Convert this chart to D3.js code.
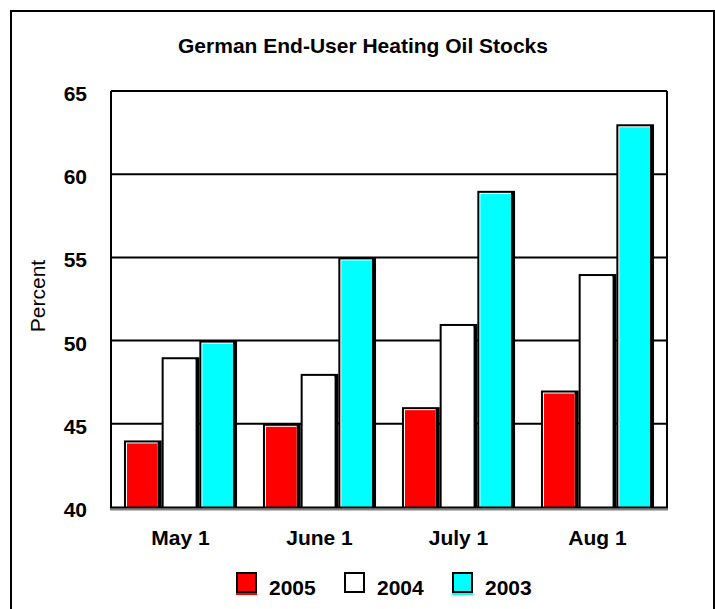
<!DOCTYPE html>
<html>
<head>
<meta charset="utf-8">
<script src="https://cdn.jsdelivr.net/npm/d3@7"></script>
<style>
  body { margin: 0; background: #fff; }
  text { font-family: Arial, "Liberation Sans", sans-serif; }
</style>
</head>
<body>
<div id="chart"></div>
<script>
var categories = ["May 1", "June 1", "July 1", "Aug 1"];
var seriesNames = ["2005", "2004", "2003"];
var seriesColors = ["#ff0000", "#ffffff", "#00ffff"];
var values2005 = [44, 45, 46, 47];
var values2004 = [49, 48, 51, 54];
var values2003 = [50, 55, 59, 63];
var yTicks = [40, 45, 50, 55, 60, 65];

var seriesValues = [values2005, values2004, values2003];

var W = 715, H = 609;
var margin = {top: 91, right: 48, bottom: 102, left: 111},
    width = W - margin.left - margin.right,
    height = H - margin.top - margin.bottom;

var svg = d3.select("#chart")
  .append("svg")
    .attr("width", W)
    .attr("height", H);

// outer frame
svg.append("rect")
  .attr("x", 11).attr("y", 11)
  .attr("width", 703).attr("height", 620)
  .attr("fill", "none")
  .attr("stroke", "#000")
  .attr("stroke-width", 2);

svg.append("text")
  .attr("x", 363).attr("y", 53)
  .attr("text-anchor", "middle")
  .attr("font-size", "21px")
  .attr("font-weight", "bold")
  .text("German End-User Heating Oil Stocks");

var g = svg.append("g")
  .attr("transform", "translate(" + margin.left + "," + margin.top + ")");

var x0 = d3.scaleBand().domain(categories).range([0, width]).padding(0);
var x1 = d3.scaleBand().domain(seriesNames).range([0, x0.bandwidth()])
  .paddingInner(0).paddingOuter(0.344);
var y = d3.scaleLinear().domain([40, 65]).range([height, 0]);

// gridlines
g.selectAll(".grid")
  .data(yTicks.filter(function(d) { return d > 40; }))
  .enter()
  .append("line")
    .attr("x1", 0).attr("x2", width)
    .attr("y1", function(d) { return y(d); })
    .attr("y2", function(d) { return y(d); })
    .attr("stroke", "#000")
    .attr("stroke-width", 2);

// plot frame sides
g.append("line").attr("x1", 0).attr("x2", 0).attr("y1", 0).attr("y2", height)
  .attr("stroke", "#000").attr("stroke-width", 2);
g.append("line").attr("x1", width).attr("x2", width).attr("y1", 0).attr("y2", height)
  .attr("stroke", "#000").attr("stroke-width", 2);

// bars, drawn as stacked rects for the bevel look
var bars = [];
categories.forEach(function(c, i) {
  seriesNames.forEach(function(s, j) {
    bars.push({cat: c, series: s, value: seriesValues[j][i], color: seriesColors[j]});
  });
});

var bar = g.selectAll(".bar")
  .data(bars)
  .enter()
  .append("g")
    .attr("transform", function(d) {
      return "translate(" + (x0(d.cat) + x1(d.series)) + "," + y(d.value) + ")";
    });

var bw = x1.bandwidth();
bar.append("rect")
  .attr("width", bw)
  .attr("height", function(d) { return height - y(d.value); })
  .attr("fill", "#000");
bar.append("rect")
  .attr("x", 2).attr("y", 2)
  .attr("width", bw - 6)
  .attr("height", function(d) { return height - y(d.value) - 2; })
  .attr("fill", "#fff");
bar.append("rect")
  .attr("x", 3).attr("y", 3)
  .attr("width", bw - 7)
  .attr("height", function(d) { return height - y(d.value) - 3; })
  .attr("fill", function(d) { return d.color; });

// bottom axis with grey shadow
g.append("line").attr("x1", -1).attr("x2", width + 1)
  .attr("y1", height + 2.5).attr("y2", height + 2.5)
  .attr("stroke", "#808080").attr("stroke-width", 2);
g.append("line").attr("x1", -1).attr("x2", width + 1)
  .attr("y1", height + 0.5).attr("y2", height + 0.5)
  .attr("stroke", "#000").attr("stroke-width", 2);

// y tick labels
g.selectAll(".ytick")
  .data(yTicks)
  .enter()
  .append("text")
    .attr("x", -24)
    .attr("y", function(d) { return y(d) + 10; })
    .attr("text-anchor", "end")
    .attr("font-size", "21px")
    .attr("font-weight", "bold")
    .text(function(d) { return d; });

// x labels
g.selectAll(".xlab")
  .data(categories)
  .enter()
  .append("text")
    .attr("x", function(d) { return x0(d) + x0.bandwidth() / 2; })
    .attr("y", height + 38)
    .attr("text-anchor", "middle")
    .attr("font-size", "21px")
    .attr("font-weight", "bold")
    .text(function(d) { return d; });

// y axis title
svg.append("text")
  .attr("transform", "translate(45,296) rotate(-90)")
  .attr("text-anchor", "middle")
  .attr("font-size", "21px")
  .text("Percent");

// legend
var legendX = [236, 344, 452];
var legend = svg.selectAll(".legend")
  .data(seriesNames)
  .enter()
  .append("g")
    .attr("transform", function(d, i) { return "translate(" + legendX[i] + ",572)"; });

legend.append("rect")
  .attr("x", 1).attr("y", 1)
  .attr("width", 19).attr("height", 19)
  .attr("fill", function(d, i) { return seriesColors[i]; })
  .attr("stroke", "#000")
  .attr("stroke-width", 2);
legend.append("line")
  .attr("x1", 0).attr("x2", 21)
  .attr("y1", 22).attr("y2", 22)
  .attr("stroke", function(d, i) { return seriesColors[i]; })
  .attr("stroke-width", 2);
legend.append("text")
  .attr("x", 33).attr("y", 23)
  .attr("font-size", "21px")
  .attr("font-weight", "bold")
  .text(function(d) { return d; });
</script>
</body>
</html>
